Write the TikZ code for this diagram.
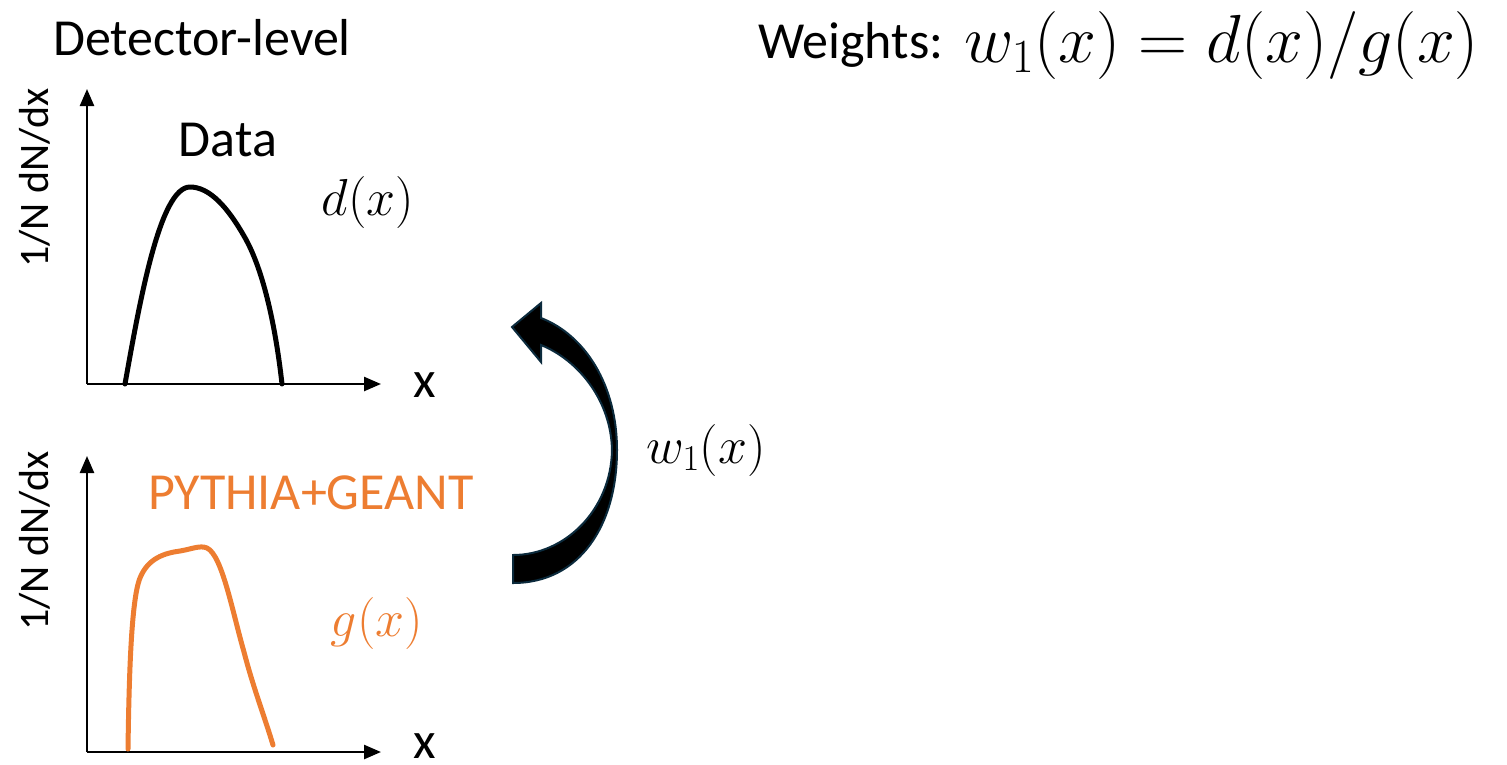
\RequirePackage{fix-cm}
\documentclass[tikz,border=0pt]{standalone}
\usepackage{fontspec}
\setmainfont{Carlito}
\usetikzlibrary{arrows.meta}
\definecolor{orng}{HTML}{ED7D31}
\definecolor{arrowedge}{HTML}{0B2A3C}
\tikzset{
  axis/.style={line width=2.5pt,-{Triangle[length=17pt,width=14pt]}},
  curve/.style={line width=5pt,line cap=round,line join=round},
  big/.style={font=\fontsize{52}{60}\selectfont,inner sep=0pt},
  ylab/.style={font=\fontsize{42}{50}\selectfont,inner sep=0pt,rotate=90},
  mlab/.style={font=\fontsize{52}{60}\selectfont,inner sep=0pt},
}
\begin{document}
\begin{tikzpicture}[x=1pt,y=-1pt]
\useasboundingbox (0,0) rectangle (1507,764);
% titles
\node[big] (title) at (202,38) {Detector-level};
\node[big,anchor=base west] (weights) at (758,58) {Weights:};
\node[font=\fontsize{68}{78}\selectfont,inner sep=0pt,anchor=base west] (formula) at (964,62) {$w_1(x)=d(x)/g(x)$};
% top plot
\coordinate (o1) at (87,384);
\coordinate (y1) at (87,89);
\coordinate (x1) at (381,384);
\draw[axis] (o1) -- (y1);
\draw[axis] (o1) -- (x1);
\node[big] (xl1) at (425,385) {x};
\node[ylab] (yl1) at (35,178) {1/N dN/dx};
\node[big] (data) at (228,140) {Data};
\node[mlab] (dx) at (368,202) {$d(x)$};
\draw[curve] (125,384) .. controls (140,300) and (160,187) .. (190,187)
  .. controls (210,187) and (228,208) .. (244,236)
  .. controls (264,270) and (276,330) .. (282,384);
% bottom plot
\coordinate (o2) at (87,752);
\coordinate (y2) at (87,456);
\coordinate (x2) at (381,752);
\draw[axis] (o2) -- (y2);
\draw[axis] (o2) -- (x2);
\node[big] (xl2) at (425,746) {x};
\node[ylab] (yl2) at (35,541) {1/N dN/dx};
\node[big,anchor=west,text=orng] (pg) at (148,493) {PYTHIA+GEANT};
\node[mlab,text=orng] (gx) at (377,623) {$g(x)$};
\draw[curve,orng] (128,749) .. controls (129,680) and (131,600) .. (140,578)
  .. controls (148,558) and (165,553) .. (180,551)
  .. controls (192,549) and (200,545) .. (207,548)
  .. controls (222,555) and (232,610) .. (244,652)
  .. controls (254,690) and (264,715) .. (273,745);
% curved arrow
\filldraw[fill=black,draw=arrowedge,line width=2pt,line join=miter]
  (513,583) .. controls (580,583) and (617,525) .. (617,450)
  .. controls (617,385) and (585,335) .. (541,318)
  -- (541,303) -- (512,327) -- (541,362) -- (541,345)
  .. controls (578,360) and (611,400) .. (612,450)
  .. controls (611,510) and (565,555) .. (513,555) -- cycle;
\node[mlab] (w1) at (706,450) {$w_1(x)$};
\end{tikzpicture}
\end{document}
